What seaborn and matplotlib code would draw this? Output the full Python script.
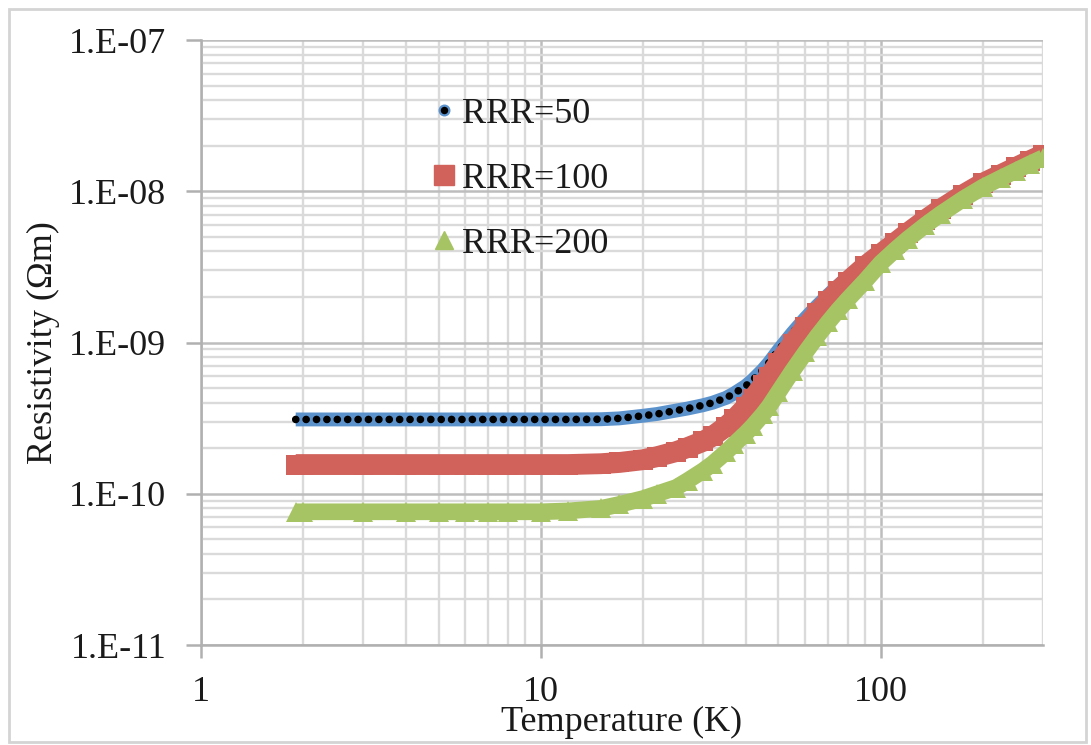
import matplotlib
matplotlib.use("Agg")
import pandas as pd
import matplotlib.pyplot as plt
import seaborn as sns
from matplotlib.ticker import FixedLocator, FixedFormatter, LogLocator, NullFormatter
from matplotlib.lines import Line2D
from matplotlib.patches import Rectangle

# Temperatures (K) shared by all three curves
temperature = [1.9, 2, 3, 4, 5, 6, 7, 8, 10, 12,
               15, 17, 20, 22, 25, 27, 30, 32, 35, 37,
               40, 42, 45, 47, 50, 55, 60, 65, 70, 75,
               80, 90, 100, 110, 120, 135, 150, 175, 200, 225,
               250, 275, 300]

# Resistivity, in units of 1e-10 Ohm.m
rho_rrr50 = [3.10, 3.10, 3.10, 3.10, 3.10, 3.10, 3.10, 3.10, 3.10, 3.10,
             3.11, 3.15, 3.28, 3.37, 3.55, 3.66, 3.85, 4.00, 4.30, 4.60,
             5.15, 5.65, 6.6, 7.4, 8.9, 11.6, 14.5, 17.5, 20.6, 23.8,
             27.0, 33.7, 40.2, 47.1, 54.5, 66.0, 77.6, 96.6, 114.7, 130.0,
             145.5, 161.0, 176.0]
rho_rrr100 = [1.56, 1.56, 1.56, 1.56, 1.56, 1.56, 1.56, 1.56, 1.56, 1.56,
              1.58, 1.61, 1.68, 1.76, 1.90, 2.02, 2.22, 2.40, 2.78, 3.10,
              3.72, 4.25, 5.2, 5.95, 7.3, 9.8, 12.6, 15.6, 18.8, 22.0,
              25.3, 32.0, 38.5, 45.5, 53.0, 64.5, 76.1, 95.1, 113.2, 128.5,
              144.0, 159.5, 174.5]
rho_rrr200 = [0.76, 0.76, 0.76, 0.76, 0.76, 0.76, 0.76, 0.76, 0.76, 0.77,
              0.80, 0.85, 0.93, 1.00, 1.10, 1.22, 1.42, 1.58, 1.88, 2.12,
              2.50, 2.80, 3.35, 3.80, 4.70, 6.5, 8.6, 11.0, 13.6, 16.4,
              19.3, 25.6, 33.5, 40.8, 48.3, 59.5, 70.8, 89.2, 106.8, 122.0,
              137.0, 152.0, 166.5]

series_labels = ["RRR=50", "RRR=100", "RRR=200"]
x_ticks = [1, 10, 100]
x_tick_labels = ["1", "10", "100"]
y_ticks = [1e-11, 1e-10, 1e-9, 1e-8, 1e-7]
y_tick_labels = ["1.E-11", "1.E-10", "1.E-09", "1.E-08", "1.E-07"]

blue = "#5b92cc"
red = "#d0625b"
green = "#a6c463"
text_col = "#1a1a1a"

df = pd.DataFrame({
    "T": temperature * 3,
    "rho": [v * 1e-10 for v in rho_rrr50 + rho_rrr100 + rho_rrr200],
    "series": [s for s in series_labels for _ in temperature],
})

sns.set_theme(style="whitegrid")
plt.rcParams["font.family"] = ["Liberation Serif", "DejaVu Serif"]

fig = plt.figure(figsize=(10.91, 7.45), dpi=100)
ax = fig.add_axes([0.1842, 0.1342, 0.7718, 0.8121])

d50 = df[df["series"] == "RRR=50"]
d100 = df[df["series"] == "RRR=100"]
d200 = df[df["series"] == "RRR=200"]

# RRR=50: blue band with black dots along it
sns.lineplot(data=d50, x="T", y="rho", ax=ax, color=blue, linewidth=10,
             solid_capstyle="butt", legend=False)
sns.lineplot(data=d50, x="T", y="rho", ax=ax, color="black", linewidth=5.5,
             linestyle=(0, (0.01, 1.35)), dash_capstyle="round", legend=False)
# RRR=100: red squares
sns.lineplot(data=d100, x="T", y="rho", ax=ax, color=red, linewidth=15,
             marker="s", markersize=15, markeredgewidth=0,
             solid_capstyle="butt", legend=False)
# RRR=200: green triangles
sns.lineplot(data=d200, x="T", y="rho", ax=ax, color=green, linewidth=12,
             marker="^", markersize=14, markeredgewidth=0,
             solid_capstyle="butt", legend=False)

ax.set_xscale("log")
ax.set_yscale("log")
ax.set_xlim(1, 300)
ax.set_ylim(1e-11, 1e-7)

ax.xaxis.set_major_locator(FixedLocator(x_ticks))
ax.xaxis.set_major_formatter(FixedFormatter(x_tick_labels))
ax.yaxis.set_major_locator(FixedLocator(y_ticks))
ax.yaxis.set_major_formatter(FixedFormatter(y_tick_labels))
ax.xaxis.set_minor_locator(LogLocator(base=10, subs=range(2, 10), numticks=20))
ax.yaxis.set_minor_locator(LogLocator(base=10, subs=range(2, 10), numticks=20))
ax.xaxis.set_minor_formatter(NullFormatter())
ax.yaxis.set_minor_formatter(NullFormatter())

ax.set_axisbelow(True)
ax.grid(which="major", color="#bdbdbd", linewidth=1.8)
ax.grid(which="minor", color="#dadada", linewidth=1.7)

for side in ["top", "right"]:
    ax.spines[side].set_visible(False)
for side in ["left", "bottom"]:
    ax.spines[side].set_color("#b0b0b0")
    ax.spines[side].set_linewidth(1.8)

ax.tick_params(axis="both", which="major", labelsize=26, labelcolor=text_col,
               color="#b0b0b0", width=1.8)
ax.tick_params(axis="y", which="major", direction="out", length=11, pad=14, left=True)
ax.tick_params(axis="x", which="major", direction="out", length=9, pad=13, bottom=True)
ax.tick_params(which="minor", length=0)

ax.set_xlabel("Temperature (K)", fontsize=26, color=text_col)
ax.set_ylabel("Resistivity (\u03a9m)", fontsize=26, color=text_col)
ax.xaxis.set_label_coords(0.5, -0.1)
ax.yaxis.set_label_coords(-0.168, 0.5)

handles = [
    Line2D([], [], linestyle="none", marker="o", markersize=7,
           markerfacecolor="black", markeredgecolor=blue, markeredgewidth=1.6),
    Line2D([], [], linestyle="none", marker="s", markersize=15,
           markerfacecolor=red, markeredgecolor=red),
    Line2D([], [], linestyle="none", marker="^", markersize=13,
           markerfacecolor=green, markeredgecolor=green),
]
leg = ax.legend(handles, series_labels, loc="upper left",
                bbox_to_anchor=(0.2755, 0.905), frameon=False, fontsize=26,
                handlelength=0.6, handletextpad=0.2, labelspacing=0.88,
                borderaxespad=0, borderpad=0)
for t in leg.get_texts():
    t.set_color(text_col)

# light chart-area border
fig.patches.append(Rectangle((9 / 1091, 3 / 745), 1077 / 1091, 733 / 745,
                             transform=fig.transFigure, fill=False,
                             edgecolor="#d4d4d4", linewidth=2))

fig.savefig("out.png", dpi=100)
